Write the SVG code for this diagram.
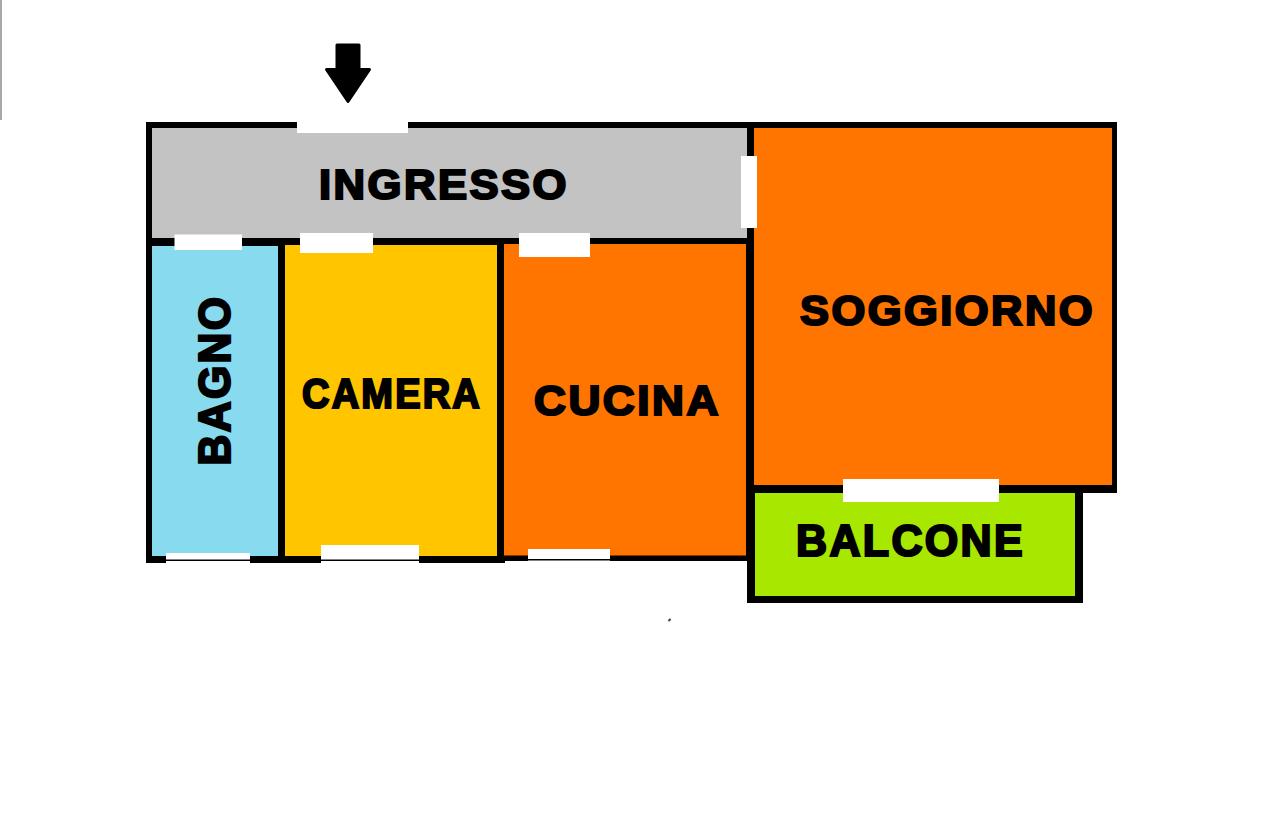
<svg xmlns="http://www.w3.org/2000/svg" width="1280" height="820" viewBox="0 0 1280 820">
<style>
.w{fill:#000}
.o{fill:#fff}
text{font-family:"Liberation Sans",Arial,sans-serif;font-weight:700;fill:#000;stroke:#000;stroke-width:2.200;stroke-linejoin:miter;letter-spacing:2.400px}
</style>
<rect width="1280" height="820" fill="#fff"/>
<rect x="0" y="0" width="2" height="120" fill="#a8a8a8"/>
<g id="walls">
<rect class="w" x="146" y="122" width="608" height="123"/>
<rect class="w" x="146" y="238" width="359" height="325"/>
<rect class="w" x="497" y="238" width="257" height="323"/>
<rect class="w" x="747" y="122" width="370" height="371"/>
<rect class="w" x="747" y="485" width="336" height="118"/>
</g>
<g id="ingresso"><rect x="152" y="128" width="595" height="110" fill="#c3c3c3"/>
<text x="319" y="199" font-size="42" textLength="250" lengthAdjust="spacingAndGlyphs">INGRESSO</text></g>
<g id="bagno"><rect x="152" y="246" width="126" height="310" fill="#88daee"/>
<text transform="translate(230,465.500) rotate(-90)" font-size="44" textLength="171" lengthAdjust="spacingAndGlyphs">BAGNO</text></g>
<g id="camera"><rect x="285" y="245" width="212" height="311" fill="#ffc600"/>
<text x="302" y="408" font-size="42" textLength="180" lengthAdjust="spacingAndGlyphs">CAMERA</text></g>
<g id="cucina"><rect x="504" y="244" width="242" height="311.500" fill="#ff7500"/>
<text x="534" y="415" font-size="42" textLength="187" lengthAdjust="spacingAndGlyphs">CUCINA</text></g>
<g id="soggiorno"><rect x="754" y="128" width="358" height="357" fill="#ff7500"/>
<text x="800" y="325" font-size="42" textLength="295" lengthAdjust="spacingAndGlyphs">SOGGIORNO</text></g>
<g id="balcone"><rect x="755" y="493" width="320" height="103" fill="#a8e800"/>
<text x="796" y="556" font-size="44" textLength="229" lengthAdjust="spacingAndGlyphs">BALCONE</text></g>
<g id="openings">
<rect class="o" x="297" y="118" width="111" height="15"/>
<rect class="o" x="174.500" y="234.500" width="67.500" height="15.500"/>
<rect class="o" x="300" y="233" width="73" height="20"/>
<rect class="o" x="519" y="233" width="71" height="24"/>
<rect class="o" x="741" y="156" width="16" height="72"/>
<rect class="o" x="843" y="479" width="156" height="23"/>
<rect class="o" x="166" y="553" width="84" height="6.500"/>
<rect class="o" x="166" y="561" width="84" height="3"/>
<rect class="o" x="321" y="545" width="98" height="14.500"/>
<rect class="o" x="321" y="561" width="98" height="3"/>
<rect class="o" x="528" y="549" width="82" height="10"/>
<rect class="o" x="528" y="560.500" width="82" height="3"/>
</g>
<g id="entry-arrow">
<path d="M337 45H359V69.500H369.500L348 101.500L326.500 69.500H337Z" fill="#000" stroke="#000" stroke-width="3" stroke-linejoin="round"/>
</g>
<rect x="668" y="619" width="3" height="2" fill="#444" transform="rotate(-45 669.500 620)"/>
</svg>
